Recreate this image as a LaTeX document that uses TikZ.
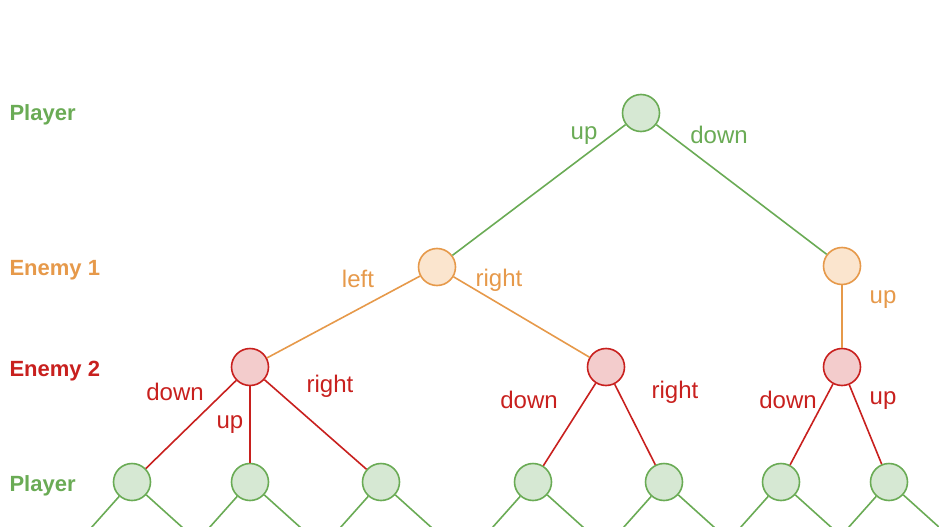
\documentclass[tikz,border=0pt]{standalone}
\usepackage{fontspec}
\setmainfont{Liberation Sans}
\usetikzlibrary{positioning}

\definecolor{plline}{HTML}{6AAB55}
\definecolor{plfill}{HTML}{D6E8D3}
\definecolor{eoline}{HTML}{E6994A}
\definecolor{eofill}{HTML}{FBE5CE}
\definecolor{etline}{HTML}{C8201E}
\definecolor{etfill}{HTML}{F3CCCC}

\tikzset{
    state/.style={circle, line width=1.6pt, minimum size=37pt, inner sep=0pt},
    player/.style={state, draw=plline, fill=plfill},
    enemyone/.style={state, draw=eoline, fill=eofill},
    enemytwo/.style={state, draw=etline, fill=etfill},
    level/.style={anchor=west, font=\fontsize{22}{26}\selectfont\bfseries},
    move/.style={font=\fontsize{24}{28}\selectfont},
}

\begin{document}
\begin{tikzpicture}[x=1pt, y=-1pt]

    \useasboundingbox (0,0) rectangle (939,527);

    % Levels
    \node[level, text=plline] (lvlp) at (6,115) {Player};
    \node[level, text=eoline] (lvla) at (6,270) {Enemy 1};
    \node[level, text=etline] (lvlb) at (6,371) {Enemy 2};
    \node[level, text=plline] (lvlq) at (6,486) {Player};

    % Root
    \node[player] (root) at (641,113) {};

    % Enemy 1
    \node[enemyone] (eoa) at (437,267) {};
    \node[enemyone] (eob) at (842,266) {};

    % Enemy 2
    \node[enemytwo] (eta) at (250,367) {};
    \node[enemytwo] (etb) at (606,367) {};
    \node[enemytwo] (etc) at (842,367) {};

    % Player
    \node[player] (pa) at (132,482) {};
    \node[player] (pb) at (250,482) {};
    \node[player] (pc) at (381,482) {};
    \node[player] (pd) at (533,482) {};
    \node[player] (pe) at (664,482) {};
    \node[player] (pf) at (781,482) {};
    \node[player] (pg) at (889,482) {};

    % Edges
    \draw[plline, line width=1.6pt] (root) -- (eoa);
    \draw[plline, line width=1.6pt] (root) -- (eob);

    \draw[eoline, line width=1.6pt] (eoa) -- (eta);
    \draw[eoline, line width=1.6pt] (eoa) -- (etb);
    \draw[eoline, line width=1.6pt] (eob) -- (etc);

    \draw[etline, line width=1.6pt] (eta) -- (pa);
    \draw[etline, line width=1.6pt] (eta) -- (pb);
    \draw[etline, line width=1.6pt] (eta) -- (pc);
    \draw[etline, line width=1.6pt] (etb) -- (pd);
    \draw[etline, line width=1.6pt] (etb) -- (pe);
    \draw[etline, line width=1.6pt] (etc) -- (pf);
    \draw[etline, line width=1.6pt] (etc) -- (pg);

    % Stubs
    \foreach \p in {pa,pb,pc,pd,pe,pf,pg} {
        \draw[plline, line width=1.6pt] (\p) -- ++(-41,46);
        \draw[plline, line width=1.6pt] (\p) -- ++(51,46);
    }

    % Labels
    \node[move, text=plline] (mup) at (584,136) {up};
    \node[move, text=plline] (mdown) at (719,135) {down};

    \node[move, text=eoline] (mleft) at (358,279) {left};
    \node[move, text=eoline] (mright) at (499,280) {right};
    \node[move, text=eoline] (mupb) at (883,300) {up};

    \node[move, text=etline] (mdowna) at (175,392) {down};
    \node[move, text=etline] (mupa) at (230,425) {up};
    \node[move, text=etline] (mrighta) at (330,386) {right};
    \node[move, text=etline] (mdownb) at (529,400) {down};
    \node[move, text=etline] (mrightb) at (675,392) {right};
    \node[move, text=etline] (mdownc) at (788,400) {down};
    \node[move, text=etline] (mupc) at (883,401) {up};

\end{tikzpicture}
\end{document}
